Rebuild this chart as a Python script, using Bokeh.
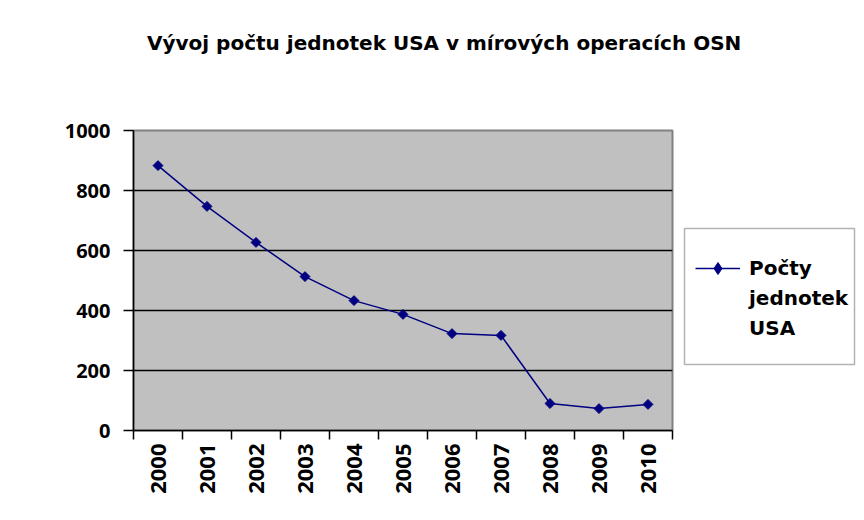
from math import pi
from bokeh.plotting import figure
from bokeh.layouts import row, column
from bokeh.models import FixedTicker, Range1d, Legend, LegendItem, BoxAnnotation, Div
from bokeh.embed import file_html
from bokeh.resources import INLINE

# ---- data ----
years = [2000, 2001, 2002, 2003, 2004, 2005, 2006, 2007, 2008, 2009, 2010]
units = [883, 747, 627, 513, 433, 387, 323, 317, 90, 73, 87]
y_ticks = [0, 200, 400, 600, 800, 1000]
legend_lines = ["Počty", "jednotek", "USA"]
title_text = "Vývoj počtu jednotek USA v mírových operacích OSN"

NAVY = "#000080"

# ---- title ----
title = Div(text=title_text, width=860, height=70, margin=0,
            styles={"font-family": "DejaVu Sans", "font-weight": "bold",
                    "font-size": "20px", "line-height": "24px",
                    "color": "black", "padding-left": "147px",
                    "padding-top": "31px", "white-space": "nowrap"})

# ---- main chart ----
p = figure(width=680, height=434, output_backend="svg", toolbar_location=None,
           x_range=Range1d(years[0] - 0.5, years[-1] + 0.5),
           y_range=Range1d(y_ticks[0], y_ticks[-1]),
           min_border_left=133, min_border_right=8,
           min_border_top=60, min_border_bottom=74)

p.background_fill_color = "#c0c0c0"
p.border_fill_color = "white"
p.outline_line_color = "#808080"
p.outline_line_width = 2

# x axis: labels at centres, ticks at category boundaries
boundaries = [y - 0.5 for y in years] + [years[-1] + 0.5]
p.xaxis.ticker = FixedTicker(ticks=years, minor_ticks=boundaries)
p.xaxis.major_tick_out = 0
p.xaxis.major_tick_in = 0
p.xaxis.minor_tick_out = 9
p.xaxis.minor_tick_in = 0
p.xaxis.minor_tick_line_color = "black"
p.xaxis.minor_tick_line_width = 1.5
p.xaxis.major_label_orientation = pi / 2
p.xaxis.major_label_standoff = 4
p.xaxis.major_label_text_font = "Open Sans"
p.xaxis.major_label_text_font_style = "bold"
p.xaxis.major_label_text_font_size = "22px"
p.xaxis.major_label_text_color = "black"
p.xaxis.axis_line_color = "black"
p.xaxis.axis_line_width = 1.5

# y axis
p.yaxis.ticker = FixedTicker(ticks=y_ticks, minor_ticks=[])
p.yaxis.major_tick_out = 10
p.yaxis.major_tick_in = 0
p.yaxis.major_tick_line_width = 1.5
p.yaxis.major_tick_line_color = "black"
p.yaxis.minor_tick_line_color = None
p.yaxis.major_label_standoff = 13
p.yaxis.major_label_text_font = "Open Sans"
p.yaxis.major_label_text_font_style = "bold"
p.yaxis.major_label_text_font_size = "20px"
p.yaxis.major_label_text_color = "black"
p.yaxis.axis_line_color = "black"
p.yaxis.axis_line_width = 1.5

p.xgrid.visible = False
p.ygrid.ticker = FixedTicker(ticks=[t for t in y_ticks if y_ticks[0] < t < y_ticks[-1]])
p.ygrid.grid_line_color = "black"
p.ygrid.grid_line_width = 1.5

# series
p.line(years, units, line_color=NAVY, line_width=1.5)
p.scatter(years, units, marker="square", angle=pi / 4, size=7,
          fill_color=NAVY, line_color=NAVY)

# ---- legend panel (separate figure to the right) ----
q = figure(width=180, height=434, output_backend="svg", toolbar_location=None,
           x_axis_location=None, y_axis_location=None,
           x_range=Range1d(0, 1), y_range=Range1d(0, 1),
           min_border=0)
q.outline_line_color = None
q.grid.visible = False
q.background_fill_color = "white"
q.border_fill_color = "white"

# legend proxies: one point lying outside this panel's ranges (never visible)
lg_line = q.line(x=years[:1], y=units[:1], line_color=NAVY, line_width=1.5)
lg_pts = q.scatter(x=years[:1], y=units[:1], marker="diamond", size=11,
                   fill_color=NAVY, line_color=NAVY)

box = BoxAnnotation(left=4, right=174, bottom=66, top=202,
                    left_units="screen", right_units="screen",
                    bottom_units="screen", top_units="screen",
                    fill_color="white", fill_alpha=1.0,
                    line_color="black", line_width=1.5)
q.add_layout(box)

items = [LegendItem(label=legend_lines[0], renderers=[lg_line, lg_pts])]
items += [LegendItem(label=t, renderers=[]) for t in legend_lines[1:]]
legend = Legend(items=items, location=(15, 87), padding=0, margin=0,
                border_line_alpha=0, background_fill_alpha=0,
                glyph_width=45, glyph_height=30, label_height=30,
                label_standoff=9, spacing=0,
                label_text_font="DejaVu Sans", label_text_font_style="bold",
                label_text_font_size="20px", label_text_color="black")
q.add_layout(legend)

layout = column(title, row(p, q))
open("out.html", "w").write(file_html(layout, INLINE))
